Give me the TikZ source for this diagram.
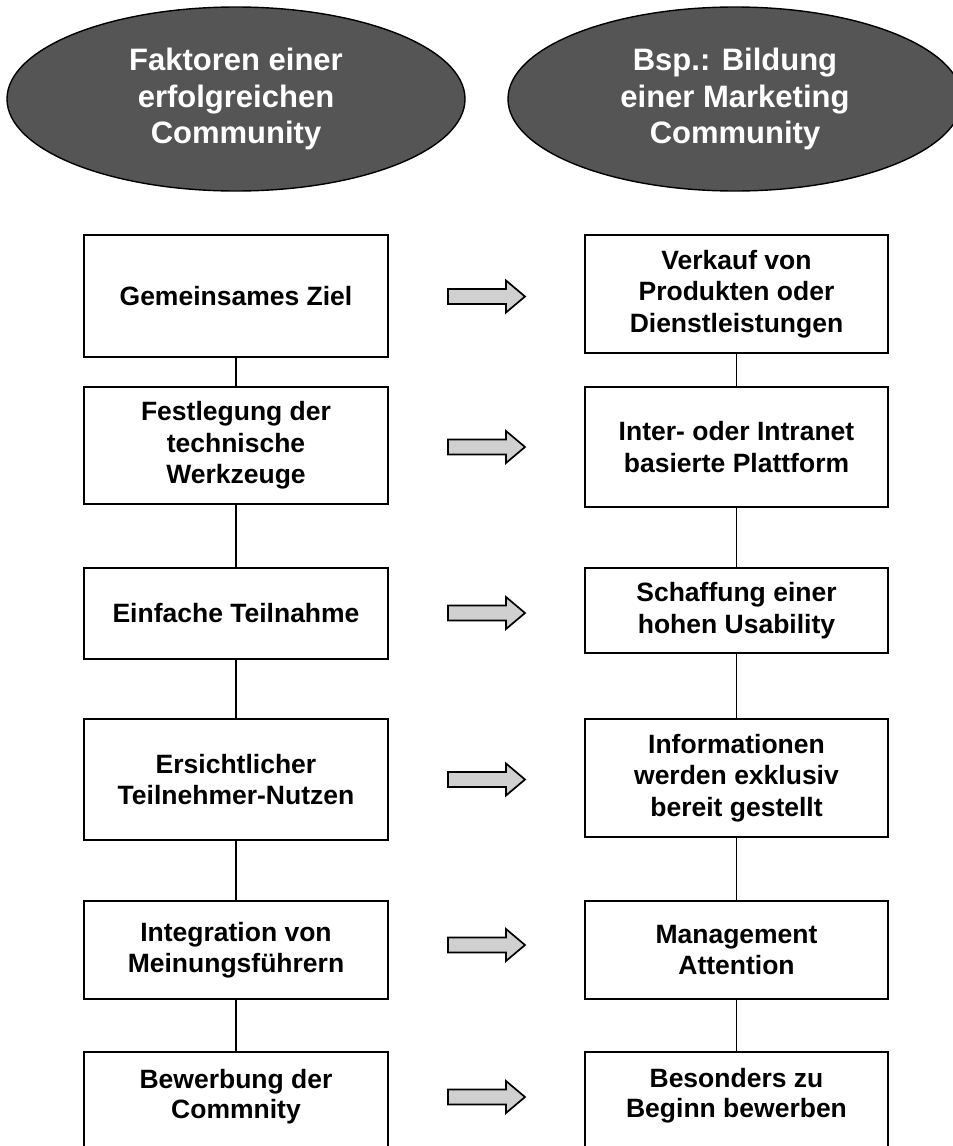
\documentclass[tikz,border=0pt]{standalone}
\usepackage{fontspec}
\setmainfont{Liberation Sans}
\usetikzlibrary{shapes.geometric}
\definecolor{ellgray}{RGB}{85,85,85}
\definecolor{arrowgray}{RGB}{208,208,208}
\begin{document}
\begin{tikzpicture}[x=1pt,y=-1pt,
  ellnode/.style={ellipse, draw=black, line width=1.4pt, fill=ellgray,
    minimum width=458pt, minimum height=184pt, inner sep=0pt, text=white,
    align=center, font=\fontsize{31}{36.5}\selectfont\bfseries},
  stepbox/.style={rectangle, draw=black, line width=2.2pt, fill=white,
    inner sep=0pt, align=center, font=\fontsize{26.5}{31.5}\selectfont\bfseries},
  lbox/.style={stepbox, minimum width=304pt},
  rbox/.style={stepbox, minimum width=303pt},
  boxtext/.style={inner sep=0pt, align=center, font=\fontsize{26.5}{30}\selectfont\bfseries},
  link/.style={draw=black, line width=1.6pt},
  pics/blockarrow/.style={code={
    \draw[fill=arrowgray, line width=1.7pt, line join=miter]
      (0,-7.5) -- (58,-7.5) -- (58,-16) -- (77,0) -- (58,16) -- (58,7.5) -- (0,7.5) -- cycle;}}
]
\path[use as bounding box] (0,0) rectangle (953,1146);
\clip (0,0) rectangle (953,1146);
\fill[white] (0,0) rectangle (953,1146);

% header ellipses
\node[ellnode] (eL) at (236,99) {Faktoren einer\\erfolgreichen\\Community};
\node[ellnode, minimum width=454pt] (eR) at (735,99) {Bsp.: Bildung\\einer Marketing\\Community};

% left column
\node[lbox, minimum height=122pt] (l1) at (236,296) {Gemeinsames Ziel};
\node[lbox, minimum height=117pt] (l2) at (236,445.5) {Festlegung der\\technische\\Werkzeuge};
\node[lbox, minimum height=91pt]  (l3) at (236,613.5) {Einfache Teilnahme};
\node[lbox, minimum height=121pt] (l4) at (236,779.5) {Ersichtlicher\\Teilnehmer-Nutzen};
\node[lbox, minimum height=98pt]  (l5) at (236,950) {Integration von\\Meinungsführern};
\node[lbox, minimum height=108pt] (l6) at (236,1106) {};
\node[boxtext] (l6t) at (236,1097) {Bewerbung der\\Commnity};

% right column
\node[rbox, minimum height=118pt] (r1) at (736.5,294) {Verkauf von\\Produkten oder\\Dienstleistungen};
\node[rbox, minimum height=120pt] (r2) at (736.5,447) {Inter- oder Intranet\\basierte Plattform};
\node[rbox, minimum height=85pt]  (r3) at (736.5,610.5) {Schaffung einer\\hohen Usability};
\node[rbox, minimum height=118pt] (r4) at (736.5,778) {Informationen\\werden exklusiv\\bereit gestellt};
\node[rbox, minimum height=98pt]  (r5) at (736.5,950) {Management\\Attention};
\node[rbox, minimum height=108pt] (r6) at (736.5,1106) {};
\node[boxtext] (r6t) at (736.5,1096) {Besonders zu\\Beginn bewerben};

% vertical connectors
\draw[link] (l1) -- (l2);
\draw[link] (l2) -- (l3);
\draw[link] (l3) -- (l4);
\draw[link] (l4) -- (l5);
\draw[link] (l5) -- (l6);
\draw[link] (r1) -- (r2);
\draw[link] (r2) -- (r3);
\draw[link] (r3) -- (r4);
\draw[link] (r4) -- (r5);
\draw[link] (r5) -- (r6);

% block arrows
\pic (a1) at (448,296.5) {blockarrow};
\pic (a2) at (448,447) {blockarrow};
\pic (a3) at (448,613) {blockarrow};
\pic (a4) at (448,779.5) {blockarrow};
\pic (a5) at (448,945) {blockarrow};
\pic (a6) at (448,1097) {blockarrow};
\end{tikzpicture}
\end{document}
